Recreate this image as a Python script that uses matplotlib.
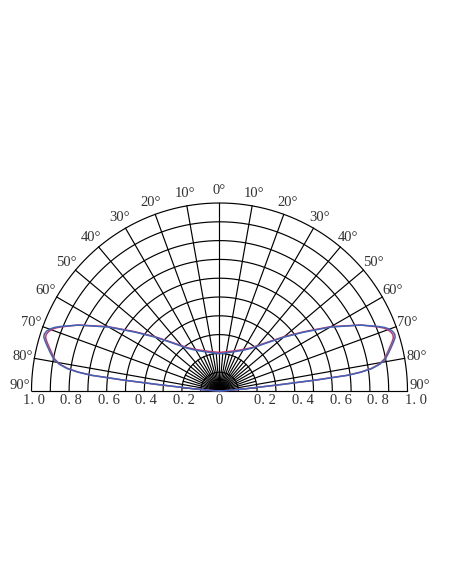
import numpy as np
import matplotlib
matplotlib.use("Agg")
import matplotlib.pyplot as plt

plt.rcParams['font.family'] = ['Liberation Serif', 'DejaVu Serif']

# 配光曲线数据（半边，角度为与竖直方向夹角）
angles = [0, 10, 20, 30, 37, 45, 50, 55, 60, 65, 68, 69, 70, 71, 72, 73, 74,
          75, 77, 79, 80.5, 81.6, 82.4, 83, 83.5, 84, 85, 86, 88, 90]
blue_vals = [0.198, 0.206, 0.222, 0.25, 0.285, 0.365, 0.445, 0.545, 0.68, 0.83,
             0.915, 0.942, 0.962, 0.974, 0.98, 0.977, 0.965, 0.952, 0.926,
             0.90, 0.865, 0.82, 0.76, 0.69, 0.515, 0.33, 0.145, 0.06, 0.015,
             0.0]
red_vals = [0.205, 0.212, 0.227, 0.255, 0.29, 0.37, 0.45, 0.55, 0.685, 0.83,
            0.91, 0.935, 0.953, 0.964, 0.97, 0.967, 0.956, 0.943, 0.918,
            0.894, 0.86, 0.815, 0.755, 0.685, 0.52, 0.34, 0.15, 0.065, 0.017,
            0.0]

radial_ticks = [1.0, 0.8, 0.6, 0.4, 0.2]
angle_ticks = list(range(-90, 100, 10))


def polar_xy(theta_deg, r):
    t = np.radians(theta_deg)
    return np.asarray(r) * np.sin(t), np.asarray(r) * np.cos(t)


fig = plt.figure(figsize=(4.52, 5.84), dpi=100)
ax = fig.add_axes([0, 0, 1, 1])
# 单位半径 = 188 像素，圆心在 (219.5, 391) 像素处
R = 188.0
ax.set_xlim(-219.5 / R, (452 - 219.5) / R)
ax.set_ylim(-(584 - 391) / R, 391 / R)
ax.axis('off')

# 网格
th = np.linspace(-90, 90, 361)
for r in np.arange(0.1, 1.01, 0.1):
    x, y = polar_xy(th, r)
    ax.plot(x, y, color='k', lw=0.85)
for a in angle_ticks:
    x, y = polar_xy(a, [0, 1])
    ax.plot(x, y, color='k', lw=0.85)
for a in range(-85, 90, 10):
    x, y = polar_xy(a, [0, 0.2])
    ax.plot(x, y, color='k', lw=0.85)

# 曲线（左右对称）
ang = np.array(angles)
full_ang = np.concatenate([-ang[::-1], ang[1:]])
for vals, col in [(red_vals, '#c2386a'), (blue_vals, '#3f63b8')]:
    v = np.array(vals)
    full_v = np.concatenate([v[::-1], v[1:]])
    x, y = polar_xy(full_ang, full_v)
    ax.plot(x, y, color=col, lw=1.1)

# 角度标签
for a in angle_ticks:
    pos = np.sign(a) * 88.5 if abs(a) == 90 else a
    x, y = polar_xy(pos, 1.065)
    ax.text(x, y, "%d°" % abs(a), ha='center', va='center',
            fontsize=10.5, color='#333333')

# 半径标签
for v in radial_ticks:
    lab = ("%.1f" % v).replace(".", ". ")
    ax.annotate(lab, xy=(-v, 0), xytext=(1.5, -7),
                textcoords='offset points', ha='center', va='center',
                fontsize=10.5, color='#333333')
    ax.annotate(lab, xy=(v, 0), xytext=(6, -7),
                textcoords='offset points', ha='center', va='center',
                fontsize=10.5, color='#333333')
ax.annotate("0", xy=(0, 0), xytext=(0, -7), textcoords='offset points',
            ha='center', va='center', fontsize=10.5, color='#333333')

fig.savefig("out.png", dpi=100)
